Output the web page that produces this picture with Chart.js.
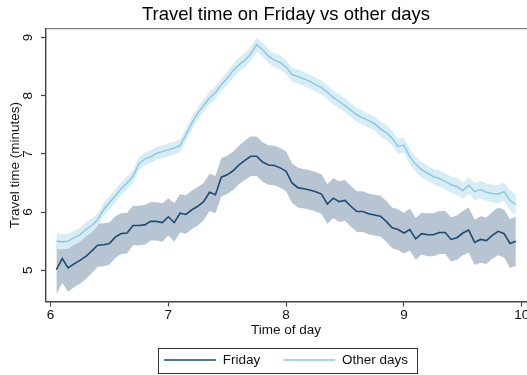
<!DOCTYPE html>
<html>
<head>
<meta charset="utf-8">
<script src="https://cdn.jsdelivr.net/npm/chart.js@4/dist/chart.umd.min.js"></script>
<style>
html,body{margin:0;padding:0;background:#fff;overflow:hidden}
#wrap{width:527px;height:375px}
</style>
</head>
<body>
<div id="wrap"><canvas id="c" width="527" height="375"></canvas></div>
<script>
const chartTitle = "Travel time on Friday vs other days";
const xTitle = "Time of day";
const yTitle = "Travel time (minutes)";
const seriesNames = ["Friday", "Other days"];
const xTicks = [6, 7, 8, 9, 10];
const yTicks = [5, 6, 7, 8, 9];

const times = [
  6.05,6.10,6.15,6.20,6.25,6.30,6.35,6.40,6.45,6.50,
  6.55,6.60,6.65,6.70,6.75,6.80,6.85,6.90,6.95,7.00,
  7.05,7.10,7.15,7.20,7.25,7.30,7.35,7.40,7.45,7.50,
  7.55,7.60,7.65,7.70,7.75,7.80,7.85,7.90,7.95,8.00,
  8.05,8.10,8.15,8.20,8.25,8.30,8.35,8.40,8.45,8.50,
  8.55,8.60,8.65,8.70,8.75,8.80,8.85,8.90,8.95,9.00,
  9.05,9.10,9.15,9.20,9.25,9.30,9.35,9.40,9.45,9.50,
  9.55,9.60,9.65,9.70,9.75,9.80,9.85,9.90,9.95
];

const friday = [
  5.01,5.20,5.04,5.11,5.17,5.24,5.33,5.43,5.44,5.46,
  5.57,5.63,5.64,5.77,5.77,5.78,5.84,5.84,5.82,5.92,
  5.82,5.98,5.96,6.04,6.10,6.18,6.34,6.30,6.60,6.64,
  6.71,6.81,6.89,6.96,6.96,6.86,6.81,6.80,6.76,6.70,
  6.50,6.42,6.40,6.38,6.35,6.31,6.14,6.24,6.18,6.20,
  6.10,6.01,6.01,5.97,5.95,5.93,5.84,5.73,5.70,5.64,
  5.70,5.54,5.63,5.61,5.61,5.65,5.65,5.53,5.56,5.64,
  5.69,5.48,5.53,5.51,5.60,5.67,5.63,5.46,5.50
];

const fridayCI = [
  0.42,0.42,0.41,0.40,0.40,0.39,0.38,0.37,0.37,0.36,
  0.36,0.35,0.35,0.34,0.34,0.34,0.33,0.33,0.33,0.32,
  0.33,0.33,0.33,0.33,0.33,0.32,0.32,0.32,0.33,0.33,
  0.33,0.33,0.34,0.34,0.34,0.34,0.34,0.34,0.34,0.34,
  0.34,0.34,0.34,0.34,0.34,0.34,0.34,0.34,0.35,0.35,
  0.35,0.35,0.35,0.35,0.35,0.35,0.35,0.35,0.35,0.35,
  0.36,0.36,0.36,0.37,0.37,0.37,0.37,0.38,0.38,0.38,
  0.39,0.39,0.40,0.40,0.40,0.41,0.41,0.42,0.42
];

const otherDays = [
  5.50,5.49,5.50,5.56,5.61,5.70,5.77,5.87,6.04,6.16,
  6.28,6.40,6.50,6.61,6.83,6.91,6.95,7.01,7.04,7.07,
  7.10,7.14,7.33,7.53,7.70,7.83,7.96,8.05,8.19,8.30,
  8.43,8.53,8.61,8.72,8.88,8.79,8.68,8.61,8.57,8.49,
  8.36,8.33,8.29,8.25,8.19,8.14,8.06,7.97,7.90,7.83,
  7.75,7.67,7.62,7.57,7.52,7.43,7.37,7.27,7.13,7.15,
  6.95,6.82,6.73,6.67,6.61,6.58,6.53,6.47,6.44,6.37,
  6.46,6.35,6.39,6.34,6.32,6.31,6.35,6.20,6.13
];

const otherDaysCI = [
  0.14,0.13,0.13,0.12,0.12,0.12,0.12,0.11,0.11,0.11,
  0.11,0.11,0.11,0.11,0.11,0.11,0.11,0.11,0.11,0.11,
  0.11,0.11,0.11,0.11,0.11,0.11,0.11,0.11,0.11,0.11,
  0.12,0.12,0.12,0.12,0.12,0.12,0.12,0.12,0.12,0.12,
  0.12,0.12,0.12,0.12,0.12,0.12,0.12,0.12,0.12,0.12,
  0.12,0.12,0.12,0.12,0.12,0.13,0.13,0.13,0.13,0.13,
  0.13,0.13,0.13,0.13,0.13,0.14,0.14,0.14,0.14,0.14,
  0.14,0.15,0.15,0.15,0.15,0.16,0.16,0.17,0.18
];

const FONT = "'Liberation Sans', Arial, Helvetica, sans-serif";
const pts = v => times.map((t, i) => ({x: t, y: v[i]}));
const upper = (v, c) => v.map((y, i) => y + c[i]);
const lower = (v, c) => v.map((y, i) => y - c[i]);

const frame = {
  id: 'frame',
  afterDraw(chart) {
    const ctx = chart.ctx, a = chart.chartArea;
    ctx.save();
    ctx.strokeStyle = '#808080';
    ctx.lineWidth = 1.3;
    ctx.beginPath();
    ctx.moveTo(a.left, a.top);
    ctx.lineTo(chart.width, a.top);
    ctx.stroke();
    const hb = chart.legend && chart.legend.legendHitBoxes;
    if (hb && hb.length) {
      const first = hb.reduce((m, h) => h.left < m.left ? h : m, hb[0]);
      const last = hb.reduce((m, h) => h.left > m.left ? h : m, hb[0]);
      const L = first.left - 6, R = last.left + last.width + 9;
      const T = first.top - 5.5, B = first.top + 19;
      ctx.strokeStyle = '#333';
      ctx.lineWidth = 1;
      ctx.strokeRect(Math.round(L) + 0.5, Math.round(T) + 0.5, Math.round(R - L), Math.round(B - T));
    }
    ctx.restore();
  }
};

new Chart(document.getElementById('c'), {
  type: 'line',
  data: {
    datasets: [
      {data: pts(upper(friday, fridayCI)), fill: '+1', backgroundColor: '#b7c5d3', borderWidth: 0, pointRadius: 0, order: 4},
      {data: pts(lower(friday, fridayCI)), fill: false, borderWidth: 0, pointRadius: 0, order: 4},
      {data: pts(upper(otherDays, otherDaysCI)), fill: '+1', backgroundColor: '#d7edf6', borderWidth: 0, pointRadius: 0, order: 3},
      {data: pts(lower(otherDays, otherDaysCI)), fill: false, borderWidth: 0, pointRadius: 0, order: 3},
      {label: seriesNames[0], data: pts(friday), borderColor: '#1d4a73', backgroundColor: '#1d4a73', borderWidth: 1.6, pointRadius: 0, fill: false, order: 1},
      {label: seriesNames[1], data: pts(otherDays), borderColor: '#8cc6dd', backgroundColor: '#8cc6dd', borderWidth: 1.4, pointRadius: 0, fill: false, order: 0}
    ]
  },
  options: {
    responsive: false,
    animation: false,
    devicePixelRatio: 1,
    elements: {line: {tension: 0}},
    layout: {padding: {left: 0, right: 1, top: 0, bottom: -1.75}},
    plugins: {
      tooltip: {enabled: false},
      title: {
        display: true, text: chartTitle, fullSize: false, color: '#000',
        font: {family: FONT, size: 18.5, weight: 'normal'},
        padding: {top: 4, bottom: 2.5}
      },
      legend: {
        display: true, position: 'bottom', fullSize: false,
        labels: {
          usePointStyle: true, pointStyle: 'line', pointStyleWidth: 52, padding: 23,
          color: '#111', font: {family: FONT, size: 13.5},
          filter: item => item.datasetIndex >= 4,
          sort: (a, b) => a.datasetIndex - b.datasetIndex
        }
      }
    },
    scales: {
      x: {
        type: 'linear', min: 5.962, max: 10.036,
        afterBuildTicks: s => { s.ticks = xTicks.map(v => ({value: v})); },
        afterFit: s => { s.height = 28.75; s.paddingLeft = 0; s.paddingRight = 0; },
        ticks: {autoSkip: false, minRotation: 0, maxRotation: 0, padding: 1, color: '#111',
          font: {family: FONT, size: 13.5}, callback: v => String(v)},
        grid: {display: true, drawOnChartArea: false, drawTicks: true, tickLength: 5, tickColor: '#444', tickWidth: 1.2},
        border: {display: true, color: '#444', width: 1.4},
        title: {display: true, text: xTitle, color: '#111', font: {family: FONT, size: 13.5}, padding: {top: 0, bottom: -7.85}}
      },
      y: {
        type: 'linear', min: 4.464, max: 9.151,
        afterBuildTicks: s => { s.ticks = yTicks.map(v => ({value: v})); },
        afterFit: s => { s.width = 46; s.paddingTop = 0; s.paddingBottom = 0; },
        ticks: {minRotation: 90, maxRotation: 90, crossAlign: 'center', padding: 8.75, color: '#111',
          font: {family: FONT, size: 13.5}, callback: v => String(v)},
        grid: {display: true, drawOnChartArea: false, drawTicks: true, tickLength: 5, tickColor: '#444', tickWidth: 1.2},
        border: {display: true, color: '#444', width: 1.4},
        title: {display: true, text: yTitle, color: '#111', font: {family: FONT, size: 13.5}, padding: {top: 7, bottom: 0}}
      }
    }
  },
  plugins: [frame]
});
</script>
</body>
</html>
